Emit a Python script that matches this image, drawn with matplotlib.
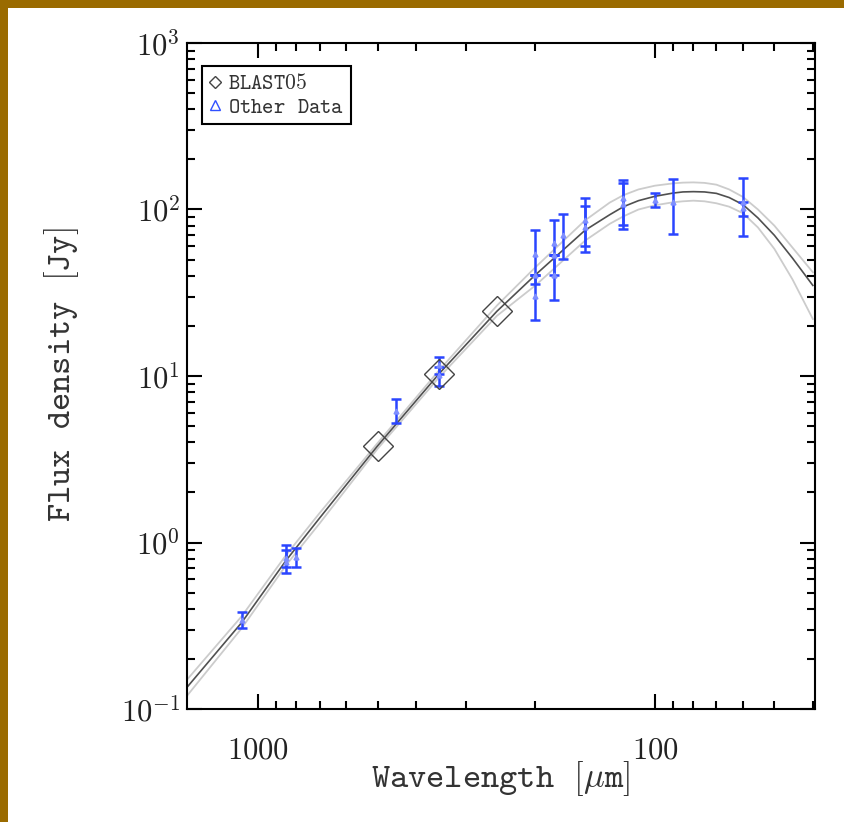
import numpy as np
import matplotlib
matplotlib.use("Agg")
from matplotlib import pyplot as plt
from matplotlib.lines import Line2D
from matplotlib.patches import Rectangle
from matplotlib.ticker import LogLocator, NullFormatter, FixedLocator, FixedFormatter

plt.rcParams["mathtext.fontset"] = "cm"
plt.rcParams["font.family"] = ["DejaVu Serif"]

# BLAST05 points
blast_wl = [500, 350, 250]
blast_flux = [3.8, 10.3, 24.5]

# Other data: wavelength, flux, bottom and top of the error bar
other_wl = [1100, 850, 850, 800, 450, 350, 350, 200, 200, 200, 180, 180, 180,
            170, 150, 150, 120, 120, 100, 90, 60, 60]
other_flux = [0.342, 0.807, 0.764, 0.82, 6.2, 11.6, 10.1, 54, 40.5, 30.2, 63, 53, 40.5,
              70, 87, 78.5, 117, 108, 114, 111, 111, 102]
other_lo = [0.307, 0.713, 0.656, 0.713, 5.2, 10.3, 8.7, 35.7, 40.5, 21.7, 40.5, 53, 28.6,
            50.5, 60, 55.6, 80.5, 76, 103.5, 71, 69, 92]
other_hi = [0.383, 0.966, 0.90, 0.93, 7.3, 13.0, 11.4, 75, 40.5, 40.5, 86.5, 53, 53,
            94, 117, 105, 150, 144, 126, 152, 155, 111]

# Model curve (best fit and envelope)
model_wl = [1510, 1100, 850, 700, 500, 350, 250, 200, 150, 130, 120, 110, 100, 90,
            85, 80, 75, 70, 65, 60, 55, 50, 45, 40]
model_mid = [0.135, 0.33, 0.78, 1.40, 3.8, 10.3, 24.5, 40.5, 75, 93, 104, 113, 120, 125.5,
             127.5, 128, 127.5, 125, 118, 107, 89, 70, 51, 35]
model_up = [0.150, 0.36, 0.84, 1.50, 3.95, 10.8, 26.5, 45, 86, 110, 122, 132, 139, 143.5,
            145, 145.5, 144.5, 141, 132, 119, 100, 80, 59, 42]
model_low = [0.120, 0.305, 0.73, 1.30, 3.65, 9.8, 23, 35, 65, 82, 91, 100, 106, 110.5,
             112, 113, 112, 109, 104, 95, 78, 58, 38, 22]

y_ticks = [0.1, 1, 10, 100, 1000]
y_labels = [r"$10^{-1}$", r"$10^{0}$", r"$10^{1}$", r"$10^{2}$", r"$10^{3}$"]
x_ticks = [1000, 100]
x_labels = [r"$1000$", r"$100$"]

fig = plt.figure(figsize=(8.45, 8.22), dpi=100)
fig.patch.set_facecolor("#9a6b00")
fig.patches.append(Rectangle((8 / 845, 0), 1, 1 - 8 / 822, transform=fig.transFigure,
                             facecolor="white", edgecolor="none", zorder=-10))

ax = fig.add_axes([187 / 845, 1 - 709 / 822, 628 / 845, 666 / 822])
ax.set_zorder(1)
ax.patch.set_alpha(0)
ax.set_xscale("log")
ax.set_yscale("log")
ax.set_xlim(1510, 39.5)
ax.set_ylim(0.1, 1000)

ax.plot(model_wl, model_up, color="#cccccc", lw=1.3, zorder=1)
ax.plot(model_wl, model_low, color="#cccccc", lw=1.3, zorder=1)
ax.plot(model_wl, model_mid, color="#505050", lw=1.2, zorder=2)

other_flux = np.array(other_flux)
yerr = [other_flux - np.array(other_lo), np.array(other_hi) - other_flux]
ax.errorbar(other_wl, other_flux, yerr=yerr, fmt="none", ecolor="#2a45ff",
            elinewidth=1.8, capsize=3.6, capthick=1.8, zorder=3)
ax.plot(other_wl, other_flux, "^", ms=3.5, color="#7f8fff", mec="#7f8fff", zorder=4)

ax.plot(blast_wl, blast_flux, "D", ms=15, mfc="none", mec="#444444", mew=1.0, zorder=5)

for s in ax.spines.values():
    s.set_linewidth(1.5)

ax.xaxis.set_major_locator(FixedLocator(x_ticks))
ax.xaxis.set_major_formatter(FixedFormatter(x_labels))
ax.xaxis.set_minor_locator(LogLocator(base=10, subs=np.arange(2, 10)))
ax.xaxis.set_minor_formatter(NullFormatter())
ax.yaxis.set_major_locator(FixedLocator(y_ticks))
ax.yaxis.set_major_formatter(FixedFormatter(y_labels))
ax.yaxis.set_minor_locator(LogLocator(base=10, subs=np.arange(2, 10), numticks=20))
ax.yaxis.set_minor_formatter(NullFormatter())

ax.tick_params(which="both", direction="in", top=True, right=True, width=1.5, colors="black")
ax.tick_params(which="major", length=11, labelsize=22, labelcolor="#222222")
ax.tick_params(which="minor", length=5.5)
ax.tick_params(axis="x", which="major", pad=18)
ax.tick_params(axis="y", which="major", pad=5)

fig.text(500 / 845, 1 - 778 / 822, r"$\mathtt{Wavelength}\ \ \mathtt{[}\mu\mathtt{m]}$",
         ha="center", va="center", fontsize=25, color="#333333")
fig.text(62 / 845, 1 - 375 / 822, r"$\mathtt{Flux}\ \ \mathtt{density}\ \ \mathtt{[Jy]}$",
         ha="center", va="center", rotation=90, fontsize=25, color="#333333")

handles = [
    Line2D([], [], ls="none", marker="D", ms=6, mfc="none", mec="#444444", mew=1.0),
    Line2D([], [], ls="none", marker="^", ms=7, mfc="none", mec="#3050ff", mew=1.0),
]
leg = ax.legend(handles, [r"$\mathtt{BLAST05}$", r"$\mathtt{Other}\ \ \mathtt{Data}$"],
                loc="upper left", bbox_to_anchor=((202 - 187) / 628, (709 - 66) / 666),
                borderaxespad=0, fancybox=False, framealpha=1, edgecolor="black",
                fontsize=15.5, handlelength=0.6, handletextpad=0.3, borderpad=0.3,
                labelspacing=0.05)
leg.get_frame().set_linewidth(1.5)
for t in leg.get_texts():
    t.set_color("#333333")

fig.savefig("out.png", dpi=100, facecolor=fig.get_facecolor())
